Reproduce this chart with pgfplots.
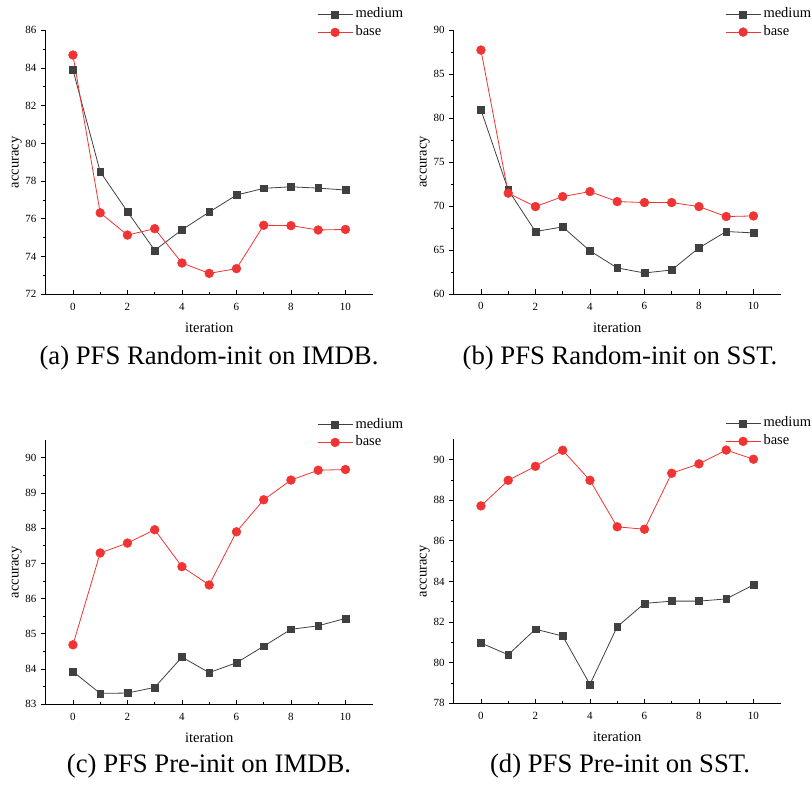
\documentclass[border=0pt]{standalone}
\usepackage{fontspec}
\setmainfont{Liberation Serif}
\usepackage{pgfplots}
\pgfplotsset{compat=1.18}

\definecolor{mgray}{HTML}{404040}
\definecolor{bred}{HTML}{F03434}

\pgfplotsset{
  panel/.style={
    scale only axis, width=327pt, height=264pt, anchor=south west,
    axis lines*=left,
    axis line style={black, line width=0.9pt},
    xmin=-1, xmax=11, xtick={0,2,...,10}, minor x tick num=1,
    minor y tick num=1,
    tick align=inside, major tick length=4.5pt, minor tick length=2.5pt,
    every tick/.style={black, line width=0.8pt},
    every major y tick/.append style={xshift=-4.5pt},
    every minor y tick/.append style={xshift=-2.5pt},
    /pgf/number format/assume math mode=true,
    tick label style={font=\fontsize{11}{13}\selectfont, inner sep=0pt},
    xticklabel style={anchor=center, yshift=-12.4pt},
    yticklabel style={anchor=east, xshift=-9pt},
    xlabel={iteration}, ylabel={accuracy},
    every axis x label/.style={at={(axis description cs:0.5,0)}, anchor=center, yshift=-33.7pt,
      font=\fontsize{14.5}{17}\selectfont},
    every axis y label/.style={at={(axis description cs:0,0.5)}, xshift=-29pt, rotate=90, anchor=center,
      font=\fontsize{14.5}{17}\selectfont},
    legend cell align=left,
    legend style={at={(axis description cs:0.8297,1)}, anchor=south west, yshift=-7.3pt,
      draw=none, fill=none, inner sep=0pt, row sep=7.7pt,
      font=\fontsize{14.5}{17}\selectfont,
      nodes={inner sep=0pt, text height=8.3pt, text depth=1.7pt}},
    legend image code/.code={
      \draw[mark repeat=2, mark phase=2, #1] plot coordinates {(0pt,0pt) (17.5pt,0pt) (35pt,0pt)};
      \path (37.5pt,0pt);
    },
  },
  med/.style={mgray, line width=0.8pt, mark=square*, mark size=3.4pt, mark options={fill=mgray, draw=mgray, line width=0.5pt}},
  bas/.style={bred, line width=0.8pt, mark=*, mark size=4.4pt, mark options={fill=bred, draw=bred, line width=0.5pt}},
}

\begin{document}
\begin{tikzpicture}
\useasboundingbox (0,0) rectangle (812pt,789pt);

% (a) Random-init, IMDB
\begin{axis}[panel, at={(45.7pt,494.7pt)}, ymin=72, ymax=86, ytick={72,74,...,86}]
\addplot[med] coordinates {
 (0,83.90) (1,78.50) (2,76.38) (3,74.33) (4,75.42) (5,76.36)
 (6,77.26) (7,77.62) (8,77.70) (9,77.63) (10,77.53)};
\addlegendentry{medium}
\addplot[bas] coordinates {
 (0,84.69) (1,76.32) (2,75.14) (3,75.48) (4,73.66) (5,73.11)
 (6,73.36) (7,75.66) (8,75.64) (9,75.41) (10,75.44)};
\addlegendentry{base}
\end{axis}

% (b) Random-init, SST
\begin{axis}[panel, at={(453.7pt,495pt)}, ymin=60, ymax=90, ytick={60,65,...,90}]
\addplot[med] coordinates {
 (0,80.93) (1,71.83) (2,67.10) (3,67.62) (4,64.90) (5,62.96)
 (6,62.39) (7,62.73) (8,65.24) (9,67.10) (10,66.94)};
\addlegendentry{medium}
\addplot[bas] coordinates {
 (0,87.72) (1,71.46) (2,69.93) (3,71.07) (4,71.64) (5,70.50)
 (6,70.39) (7,70.39) (8,69.93) (9,68.80) (10,68.87)};
\addlegendentry{base}
\end{axis}

% (c) Pre-init, IMDB
\begin{axis}[panel, at={(45.7pt,84.7pt)}, ymin=83, ymax=90.5, ytick={83,84,...,90}]
\addplot[med] coordinates {
 (0,83.93) (1,83.31) (2,83.32) (3,83.48) (4,84.34) (5,83.90)
 (6,84.18) (7,84.65) (8,85.13) (9,85.23) (10,85.44)};
\addlegendentry{medium}
\addplot[bas] coordinates {
 (0,84.69) (1,87.30) (2,87.58) (3,87.96) (4,86.91) (5,86.39)
 (6,87.90) (7,88.81) (8,89.37) (9,89.65) (10,89.67)};
\addlegendentry{base}
\end{axis}

% (d) Pre-init, SST
\begin{axis}[panel, at={(453.7pt,85.7pt)}, ymin=78, ymax=91, ytick={78,80,...,90}]
\addplot[med] coordinates {
 (0,80.97) (1,80.39) (2,81.65) (3,81.31) (4,78.93) (5,81.77)
 (6,82.92) (7,83.03) (8,83.03) (9,83.14) (10,83.83)};
\addlegendentry{medium}
\addplot[bas] coordinates {
 (0,87.72) (1,88.98) (2,89.67) (3,90.46) (4,88.98) (5,86.69)
 (6,86.57) (7,89.33) (8,89.79) (9,90.47) (10,90.02)};
\addlegendentry{base}
\end{axis}

\begin{scope}[every node/.style={font=\fontsize{26.7}{31}\selectfont, anchor=base}]
\node at (209pt,424pt) {(a) PFS Random-init on IMDB.};
\node at (620pt,424pt) {(b) PFS Random-init on SST.};
\node at (209pt,16pt) {(c) PFS Pre-init on IMDB.};
\node at (620pt,16pt) {(d) PFS Pre-init on SST.};
\end{scope}
\end{tikzpicture}
\end{document}
